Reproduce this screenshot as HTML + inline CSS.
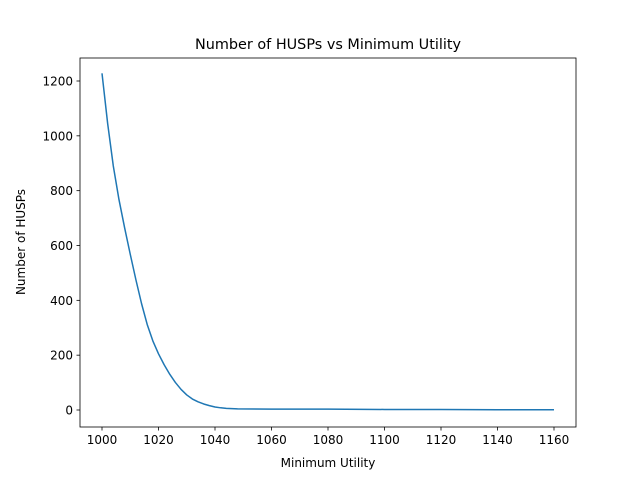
<!DOCTYPE html>
<html><head><meta charset="utf-8"><style>
body{margin:0;background:#fff;}
svg{display:block;font-family:"DejaVu Sans","Liberation Sans",sans-serif;}
</style></head><body>
<svg id="chart" width="640" height="480">
<rect width="640" height="480" fill="#fff"/>
<text x="328" y="49" text-anchor="middle" font-size="14.4">Number of HUSPs vs Minimum Utility</text>
<g id="axes"></g>
<text x="328" y="467" text-anchor="middle" font-size="12">Minimum Utility</text>
<text transform="translate(25,242) rotate(-90)" text-anchor="middle" font-size="12">Number of HUSPs</text>
</svg>
<script>
const xValues=[1000,1002,1004,1006,1008,1010,1012,1014,1016,1018,1020,1022,1024,1026,1028,1030,1032,1034,1036,1038,1040,1042,1044,1046,1048,1060,1080,1100,1120,1140,1160];
const yValues=[1228,1045,890,768,665,568,475,388,312,252,205,165,130,100,75,55,40,30,22,16,11,8,6,5,4,3,3,2,2,1,1];
const xTicks=[1000,1020,1040,1060,1080,1100,1120,1140,1160];
const yTicks=[0,200,400,600,800,1000,1200];
const L=80,R=576,T=58,B=427;
const sx=v=>102+(v-1000)*(554-102)/160;
const sy=v=>410-v*(410-81)/1200;
const ns="http://www.w3.org/2000/svg";
const g=document.getElementById('axes');
function mk(t,a){const e=document.createElementNS(ns,t);for(const k in a)e.setAttribute(k,a[k]);g.appendChild(e);return e;}
xTicks.forEach(v=>{
 const l=mk('line',{x1:sx(v),x2:sx(v),y1:B,y2:B+3.5,stroke:'#000','stroke-width':0.8});
 
 
 const t=mk('text',{x:sx(v),y:B+17,'text-anchor':'middle','font-size':12});
 t.textContent=v;
 
 
});
yTicks.forEach(v=>{
 const l=mk('line',{x1:L-3.5,x2:L,y1:sy(v),y2:sy(v),stroke:'#000','stroke-width':0.8});
 
 
 const t=mk('text',{x:L-7,y:sy(v)+4.5,'text-anchor':'end','font-size':12});
 t.textContent=v;
 
 
});
const p=mk('polyline',{points:xValues.map((x,i)=>sx(x)+','+sy(yValues[i])).join(' '),fill:'none',stroke:'#1f77b4','stroke-width':1.5,'stroke-linejoin':'round'});


const f=mk('rect',{x:L,y:T,width:R-L,height:B-T,fill:'none',stroke:'#000','stroke-width':0.8});


</script>
</body></html>
